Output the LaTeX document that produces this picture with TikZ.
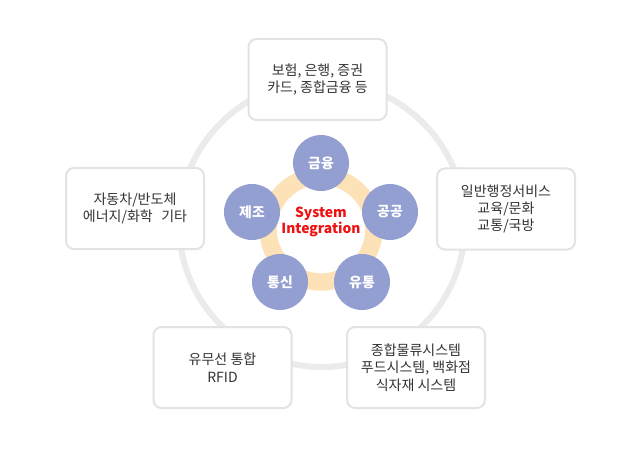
\documentclass[tikz,border=0pt]{standalone}
\usepackage{fontspec}
\setmainfont{Noto Sans CJK KR}
\begin{document}
\begin{tikzpicture}[x=0.75pt,y=-0.75pt,
  infobox/.style={draw=boxgray,line width=1.5pt,rounded corners=6pt,fill=white,
    minimum width=103.5pt,minimum height=60.75pt,align=center,
    font=\fontsize{10.5pt}{13pt}\selectfont,text=textgray,inner sep=0pt},
  sector/.style={circle,fill=bluefill,minimum size=42pt,inner sep=0pt,
    text=white,font=\bfseries\fontsize{10.4pt}{12pt}\selectfont}]
\definecolor{boxgray}{HTML}{E3E3E3}
\definecolor{ringgray}{HTML}{EBEBEB}
\definecolor{textgray}{HTML}{333333}
\definecolor{bluefill}{HTML}{939FD1}
\definecolor{ringorange}{HTML}{FDE2B7}
\definecolor{sired}{HTML}{EE1111}
\useasboundingbox (0,0) rectangle (640,460);
\fill[white] (0,0) rectangle (640,460);
% outer gray ring
\draw[ringgray,line width=4.5pt] (322,224) circle[radius=143];
% inner orange ring
\draw[ringorange,line width=13pt] (321,229) circle[radius=53];
% boxes
\node[infobox] (fin) at (317.5,79.5) {보험, 은행, 증권\\카드, 종합금융 등};
\node[infobox] (man) at (135,208.5) {자동차/반도체\\에너지/화학\hspace{0.6em}기타};
\node[infobox] (pub) at (506,209) {일반행정서비스\\교육/문화\\교통/국방};
\node[infobox] (tel) at (222.5,367.5) {유무선 통합\\RFID};
\node[infobox] (dis) at (416,367.5) {종합물류시스템\\푸드시스템, 백화점\\식자재 시스템};
% sector circles
\node[sector] (cfin) at (321,163) {금융};
\node[sector] (cpub) at (390,212) {공공};
\node[sector] (cdis) at (362,282) {유통};
\node[sector] (ctel) at (280,282) {통신};
\node[sector] (cman) at (252,212) {제조};
% center label
\node[text=sired,font=\bfseries\fontsize{10.4pt}{12.6pt}\selectfont,align=center] (si) at (321,222) {System\\Integration};
\end{tikzpicture}
\end{document}
